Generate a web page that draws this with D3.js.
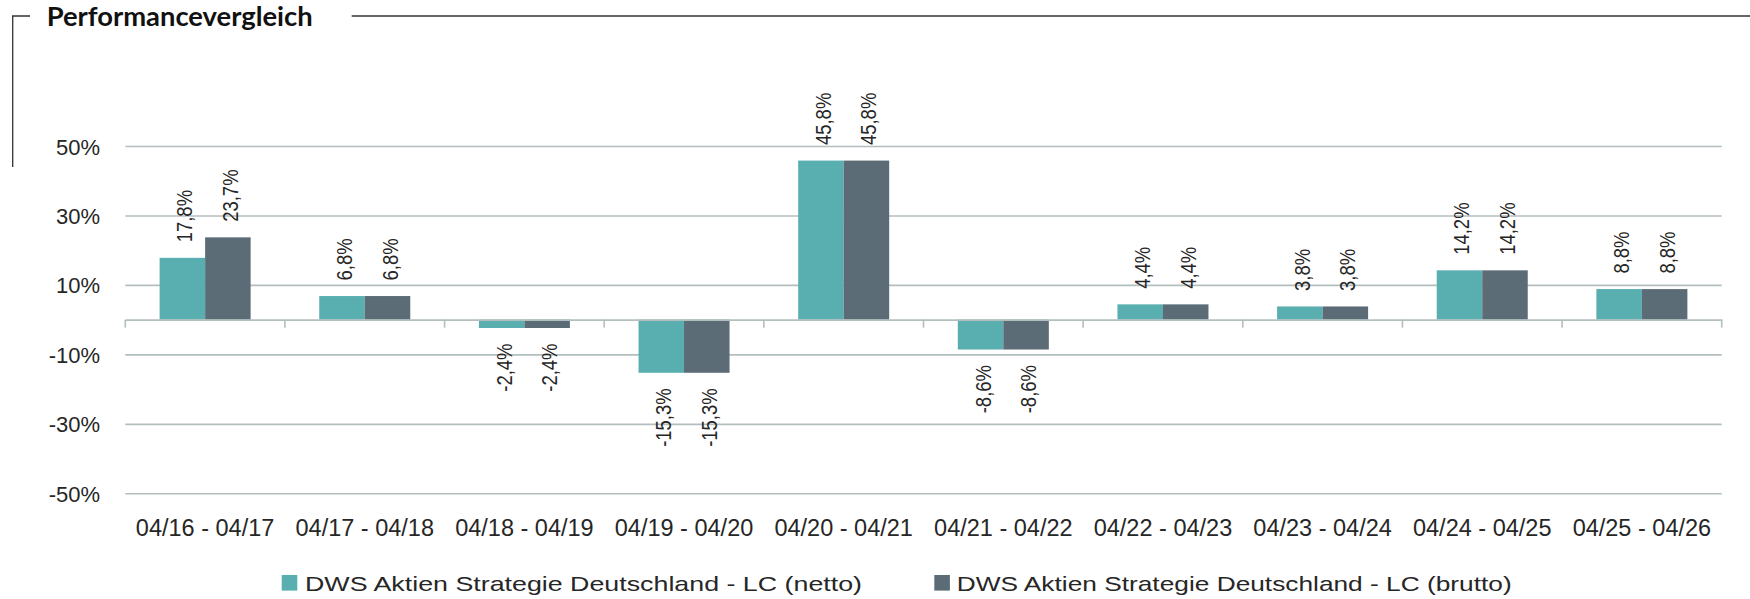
<!DOCTYPE html>
<html>
<head>
<meta charset="utf-8">
<script src="https://cdn.jsdelivr.net/npm/d3@7"></script>
<style>
  html, body { margin: 0; padding: 0; background: #ffffff; }
  svg { display: block; }
  text { font-family: "Liberation Sans", Arial, sans-serif; fill: #262626; }
</style>
</head>
<body>
<svg id="chart" width="1750" height="599"></svg>
<script>
// Performance periods (April to April)
const categories = ["04/16 - 04/17", "04/17 - 04/18", "04/18 - 04/19", "04/19 - 04/20", "04/20 - 04/21",
                    "04/21 - 04/22", "04/22 - 04/23", "04/23 - 04/24", "04/24 - 04/25", "04/25 - 04/26"];
const seriesNames = ["DWS Aktien Strategie Deutschland - LC (netto)",
                     "DWS Aktien Strategie Deutschland - LC (brutto)"];
const nettoValues  = [17.8, 6.8, -2.4, -15.3, 45.8, -8.6, 4.4, 3.8, 14.2, 8.8];
const bruttoValues = [23.7, 6.8, -2.4, -15.3, 45.8, -8.6, 4.4, 3.8, 14.2, 8.8];
const yTicks = [-50, -30, -10, 10, 30, 50];
const colors = ["#59aeb0", "#5c6c77"];
const title = "Performancevergleich";

const svg = d3.select("#chart");

const plotLeft = 125.3, plotRight = 1721.7, plotTop = 146, plotBottom = 493.3;

const x0 = d3.scaleBand().domain(categories).range([plotLeft, plotRight]).padding(0);
const x1 = d3.scaleBand().domain(seriesNames).range([0, x0.bandwidth()])
  .paddingInner(0).paddingOuter(0.754);
const y = d3.scaleLinear().domain([-50, 50]).range([plotBottom, plotTop]);

const gridColor = "#b3bebf";
// German number style with a plain hyphen for negatives: -2,4%
const fmt = v => (v < 0 ? "-" : "") + Math.abs(v).toFixed(1).replace(".", ",") + "%";

// Title bracket and header rule
const frame = svg.append("g").attr("stroke", "#333").attr("stroke-width", 1.3).attr("fill", "none");
frame.append("path").attr("d", "M30,16 H12.7 V167");
frame.append("line").attr("x1", 351.7).attr("x2", 1750).attr("y1", 16).attr("y2", 16);

svg.append("text")
  .attr("x", 46.7).attr("y", 26)
  .attr("textLength", 266).attr("lengthAdjust", "spacingAndGlyphs")
  .style("font-family", "Lato, 'Open Sans', sans-serif")
  .style("font-weight", 700).style("font-size", "26px").style("fill", "#111")
  .text(title);

// Horizontal gridlines
const yAxis = d3.axisLeft(y).tickValues(yTicks).tickSize(0).tickPadding(0)
  .tickFormat(d => (d < 0 ? "-" : "") + Math.abs(d) + "%");
const yg = svg.append("g").attr("transform", `translate(${plotLeft},0)`).call(yAxis);
yg.select(".domain").remove();
yg.selectAll(".tick line").attr("x2", plotRight - plotLeft).attr("stroke", gridColor).attr("stroke-width", 1.6);
yg.selectAll(".tick text")
  .attr("x", -25.3).attr("dy", null).attr("y", 8)
  .attr("text-anchor", "end")
  .style("font-size", "22px").style("font-family", "'Liberation Sans', Arial, sans-serif")
  .style("fill", "#262626");

// Bars
const rows = categories.map((c, i) => ({ cat: c, vals: [nettoValues[i], bruttoValues[i]] }));
const groups = svg.append("g").selectAll("g").data(rows).join("g")
  .attr("transform", d => `translate(${x0(d.cat)},0)`);

groups.selectAll("rect")
  .data(d => d.vals.map((v, k) => ({ name: seriesNames[k], v, k })))
  .join("rect")
  .attr("x", d => x1(d.name))
  .attr("width", x1.bandwidth())
  .attr("y", d => y(Math.max(0, d.v)))
  .attr("height", d => Math.abs(y(d.v) - y(0)))
  .attr("fill", d => colors[d.k]);

// Value labels, rotated
groups.selectAll("text.val")
  .data(d => d.vals.map((v, k) => ({ name: seriesNames[k], v, k })))
  .join("text")
  .attr("class", "val")
  .attr("text-anchor", d => d.v >= 0 ? "start" : "end")
  .attr("transform", d => {
    const cx = x1(d.name) + x1.bandwidth() / 2 + 10;
    const cy = d.v >= 0 ? y(d.v) - 15.5 : y(d.v) + 15.5;
    return `translate(${cx},${cy}) rotate(-90)`;
  })
  .style("font-size", "22px")
  .text(d => fmt(d.v))
  .each(function () {
    const len = this.getComputedTextLength();
    d3.select(this).attr("textLength", len * 0.84).attr("lengthAdjust", "spacingAndGlyphs");
  });

// Zero axis with category ticks
const xAxis = d3.axisBottom(x0).tickSize(0).tickFormat(() => "");
const xg = svg.append("g").attr("transform", `translate(0,${y(0)})`).call(xAxis);
xg.select(".domain").attr("stroke", gridColor).attr("stroke-width", 1.8);
xg.selectAll(".tick").remove();
const bounds = categories.map(c => x0(c)).concat([x0(categories[categories.length - 1]) + x0.bandwidth()]);
xg.selectAll("line.sep").data(bounds).join("line")
  .attr("class", "sep")
  .attr("x1", d => d).attr("x2", d => d)
  .attr("y1", 0).attr("y2", 8)
  .attr("stroke", gridColor).attr("stroke-width", 1.6);

// Category labels
svg.append("g").selectAll("text").data(categories).join("text")
  .attr("x", d => x0(d) + x0.bandwidth() / 2)
  .attr("y", 536)
  .attr("text-anchor", "middle")
  .style("font-size", "23.5px")
  .text(d => d);

// Legend
const legendItems = [
  { name: seriesNames[0], color: colors[0], sx: 281.7, tx: 305, w: 557 },
  { name: seriesNames[1], color: colors[1], sx: 934.3, tx: 956.7, w: 555 }
];
const lg = svg.append("g");
lg.selectAll("rect").data(legendItems).join("rect")
  .attr("x", d => d.sx).attr("y", 575).attr("width", 15.6).attr("height", 15.6)
  .attr("fill", d => d.color);
lg.selectAll("text").data(legendItems).join("text")
  .attr("x", d => d.tx).attr("y", 590.7)
  .attr("textLength", d => d.w).attr("lengthAdjust", "spacingAndGlyphs")
  .style("font-size", "21px")
  .text(d => d.name);
</script>
</body>
</html>
